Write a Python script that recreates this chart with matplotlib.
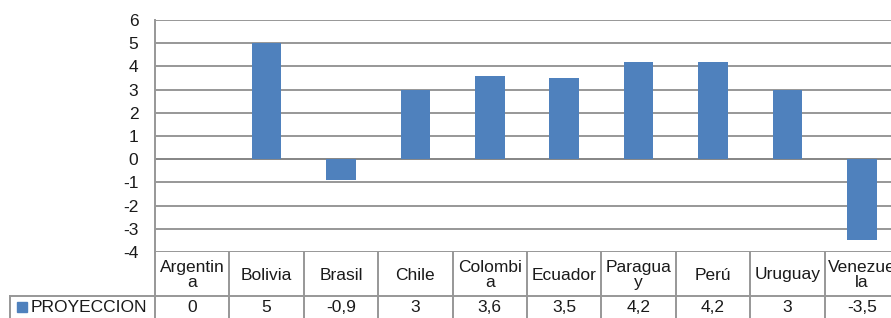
import matplotlib
matplotlib.use("Agg")
import matplotlib.pyplot as plt
from matplotlib.transforms import blended_transform_factory
from matplotlib.patches import Rectangle
from matplotlib.lines import Line2D

plt.rcParams['font.family'] = ['Liberation Sans', 'DejaVu Sans']

categories = ["Argentina", "Bolivia", "Brasil", "Chile", "Colombia",
              "Ecuador", "Paraguay", "Perú", "Uruguay", "Venezuela"]
header_labels = ["Argentin\na", "Bolivia", "Brasil", "Chile", "Colombi\na",
                 "Ecuador", "Paragua\ny", "Perú", "Uruguay", "Venezue\nla"]
proyeccion = [0, 5, -0.9, 3, 3.6, 3.5, 4.2, 4.2, 3, -3.5]
series_name = "PROYECCION"
yticks = [-4, -3, -2, -1, 0, 1, 2, 3, 4, 5, 6]

W, H = 891, 318
fig = plt.figure(figsize=(W / 100, H / 100), dpi=100)
fig.patch.set_facecolor("white")

left_px, right_px, top_px, bot_px = 155, 899, 20, 252
ax = fig.add_axes([left_px / W, (H - bot_px) / H,
                   (right_px - left_px) / W, (bot_px - top_px) / H])

bar_color = "#4F81BD"
grid_color = "#979797"
text_color = "#1a1a1a"
fs = 12.5

x = list(range(len(categories)))
ax.bar(x, proyeccion, width=0.4, color=bar_color, zorder=3)
ax.set_xlim(-0.5, len(categories) - 0.5)
ax.set_ylim(min(yticks), max(yticks))
ax.set_yticks(yticks)
ax.set_yticklabels([str(t) for t in yticks], fontsize=fs, color=text_color)
ax.tick_params(axis='y', length=0, pad=12)
ax.set_xticks([])
for t in yticks:
    ax.axhline(t, color=grid_color if t != 0 else "#858585", lw=1.4, zorder=1)
for s in ["top", "right", "bottom"]:
    ax.spines[s].set_visible(False)
ax.spines["left"].set_color(grid_color)
ax.spines["left"].set_linewidth(1.4)

# data table
tr = blended_transform_factory(ax.transData, ax.transAxes)
ph = bot_px - top_px
row1 = 44 / ph
y_line = -row1
y_bottom = -(H - bot_px + 5) / ph
for i in range(len(categories) + 1):
    xb = i - 0.5
    ax.add_line(Line2D([xb, xb], [0, y_bottom], transform=tr, color=grid_color,
                       lw=1.4, clip_on=False))
ax.add_line(Line2D([-0.5, len(categories) - 0.5], [y_line, y_line], transform=tr,
                   color=grid_color, lw=1.4, clip_on=False))
for i, lab in enumerate(header_labels):
    ax.text(i, -23 / ph, lab, transform=tr, ha="center", va="center",
            fontsize=fs, color=text_color, linespacing=0.95, clip_on=False)
for i, v in enumerate(proyeccion):
    s = (f"{v:g}").replace(".", ",")
    ax.text(i, -(308 - bot_px) / ph, s, transform=tr, ha="center", va="center",
            fontsize=fs, color=text_color, clip_on=False)

# legend cell in figure pixels
def fx(px):
    return px / W

def fy(py):
    return 1 - py / H

fig.add_artist(Line2D([fx(10), fx(155)], [fy(296), fy(296)], color=grid_color, lw=1.4))
fig.add_artist(Line2D([fx(10), fx(10)], [fy(296), fy(320)], color=grid_color, lw=1.4))
fig.add_artist(Rectangle((fx(17), fy(312)), 10 / W, 10 / H, color=bar_color,
                         transform=fig.transFigure))
fig.text(fx(31), fy(308), series_name, ha="left", va="center", fontsize=fs,
         color=text_color)

fig.savefig("out.png", dpi=100, facecolor="white")
